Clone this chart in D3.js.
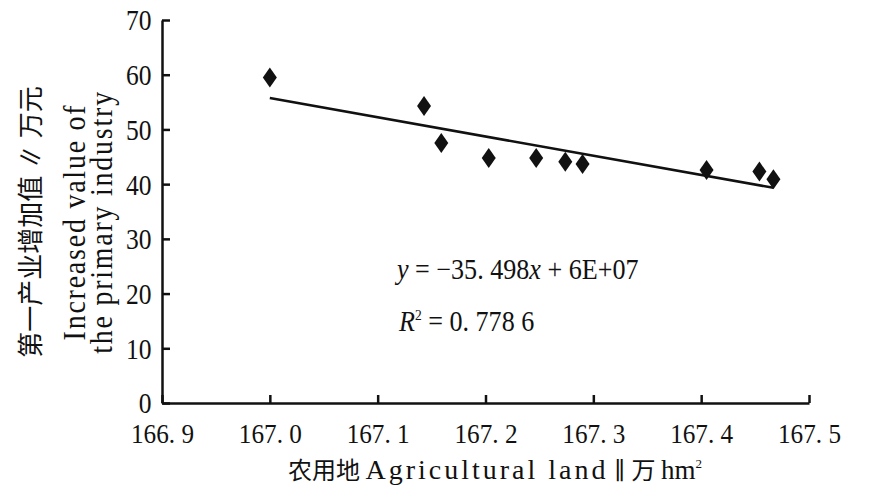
<!DOCTYPE html>
<html>
<head>
<meta charset="utf-8">
<script src="https://d3js.org/d3.v7.min.js"></script>
<style>
    html, body { margin: 0; padding: 0; background: #fff; overflow: hidden; }
    text { fill: #111; }
</style>
</head>
<body>
<svg id="chart" width="869" height="495"></svg>
<script>
// agricultural land (10^4 hm2) vs. increased value of the primary industry (10^4 yuan)
var landX = [167.000, 167.143, 167.159, 167.203, 167.247, 167.274, 167.290, 167.405, 167.454, 167.467];
var valueY = [59.5, 54.3, 47.5, 44.8, 44.8, 44.1, 43.7, 42.6, 42.3, 40.9];
var xTicks = [166.9, 167.0, 167.1, 167.2, 167.3, 167.4, 167.5];
var yTicks = [0, 10, 20, 30, 40, 50, 60, 70];
var r2Text = "0.778 6";

var SERIF = "'Liberation Serif', 'DejaVu Serif', serif";
var CJK = "'Noto Sans CJK SC', sans-serif";

var svg = d3.select("#chart");
var mLeft = 162, mRight = 809, mTop = 20, mBottom = 403;

var x = d3.scaleLinear().domain([166.9, 167.5]).range([mLeft, mRight]);
var y = d3.scaleLinear().domain([0, 70]).range([mBottom, mTop]);

// axes, ticks pointing inwards
var xAxis = svg.append("g")
    .attr("transform", "translate(0," + mBottom + ")")
    .call(d3.axisBottom(x).tickValues(xTicks).tickSize(-8).tickSizeOuter(0).tickPadding(20)
        .tickFormat(function(d) { return d3.format(".1f")(d).replace(".", ". "); }));
var yAxis = svg.append("g")
    .attr("transform", "translate(" + mLeft + ",0)")
    .call(d3.axisLeft(y).tickValues(yTicks).tickSize(-8).tickSizeOuter(0).tickPadding(12));

[xAxis, yAxis].forEach(function(a) {
    a.attr("font-family", null);
    a.select(".domain").attr("stroke", "#111").attr("stroke-width", 2.5);
    a.selectAll(".tick line").attr("stroke", "#111").attr("stroke-width", 2.5);
});
xAxis.selectAll(".tick text")
    .style("font-family", SERIF)
    .style("font-size", "28px")
    .attr("dy", "0.71em")
    .attr("transform", "scale(0.9,1)");
yAxis.selectAll(".tick text")
    .style("font-family", SERIF)
    .style("font-size", "29px")
    .attr("x", -12)
    .attr("transform", "scale(0.88,1)")
    .attr("dy", "0.34em");

// least squares trend line
var mx = d3.mean(landX), my = d3.mean(valueY);
var sxy = d3.sum(landX, function(v, i) { return (v - mx) * (valueY[i] - my); });
var sxx = d3.sum(landX, function(v) { return (v - mx) * (v - mx); });
var slope = sxy / sxx, icpt = my - slope * mx;
var ext = d3.extent(landX);
svg.append("line")
    .attr("x1", x(ext[0])).attr("y1", y(icpt + slope * ext[0]))
    .attr("x2", x(ext[1])).attr("y2", y(icpt + slope * ext[1]))
    .attr("stroke", "#111").attr("stroke-width", 2.6);

// diamond markers
svg.append("g").selectAll("path")
    .data(landX.map(function(v, i) { return [v, valueY[i]]; }))
    .enter().append("path")
    .attr("d", "M0,-10L7,0L0,10L-7,0Z")
    .attr("transform", function(d) { return "translate(" + x(d[0]) + "," + y(d[1]) + ")"; })
    .attr("fill", "#111");

// equation
var eq = svg.append("text").style("font-family", SERIF).style("font-size", "29px")
    .attr("transform", "translate(397,279) scale(0.9,1)");
eq.append("tspan").attr("font-style", "italic").text("y");
eq.append("tspan").text(" = \u221235. 498");
eq.append("tspan").attr("font-style", "italic").text("x");
eq.append("tspan").text(" +  6E+07");
var r2 = svg.append("text").style("font-family", SERIF).style("font-size", "29px")
    .attr("transform", "translate(399,331) scale(0.9,1)");
r2.append("tspan").attr("font-style", "italic").text("R");
r2.append("tspan").style("font-size", "15px").attr("dy", -11).text("2");
r2.append("tspan").attr("dy", 11).text(" = " + r2Text.replace(".", ". "));

// y title (three lines, rotated)
var yTitle = [
    {txt: "第一产业增加值 \u2225 万元", font: CJK, cx: 31, size: 26, sx: 1, ls: 0},
    {txt: "Increased value of", font: SERIF, cx: 74, size: 31, sx: 0.9, ls: 2},
    {txt: "the primary industry", font: SERIF, cx: 101, size: 31, sx: 0.9, ls: 2}
];
svg.append("g").selectAll("text")
    .data(yTitle)
    .enter().append("text")
    .style("font-family", function(d) { return d.font; })
    .style("font-size", function(d) { return d.size + "px"; })
    .attr("text-anchor", "middle")
    .attr("dy", "0.35em")
    .attr("letter-spacing", function(d) { return d.ls; })
    .attr("transform", function(d) { return "translate(" + d.cx + ",222) rotate(-90) scale(" + d.sx + ",1)"; })
    .text(function(d) { return d.txt; });

// x title
var xt = svg.append("text").attr("text-anchor", "middle")
    .attr("transform", "translate(495,479)");
xt.append("tspan").style("font-family", CJK).style("font-size", "24px").text("农用地 ");
xt.append("tspan").style("font-family", SERIF).style("font-size", "28px").attr("letter-spacing", 3).text("Agricultural land");
xt.append("tspan").style("font-family", SERIF).style("font-size", "24px").text(" \u2225 ");
xt.append("tspan").style("font-family", CJK).style("font-size", "24px").text("万 ");
xt.append("tspan").style("font-family", SERIF).style("font-size", "27px").text("hm");
xt.append("tspan").style("font-family", SERIF).style("font-size", "13px").attr("dy", -11).text("2");
</script>
</body>
</html>
